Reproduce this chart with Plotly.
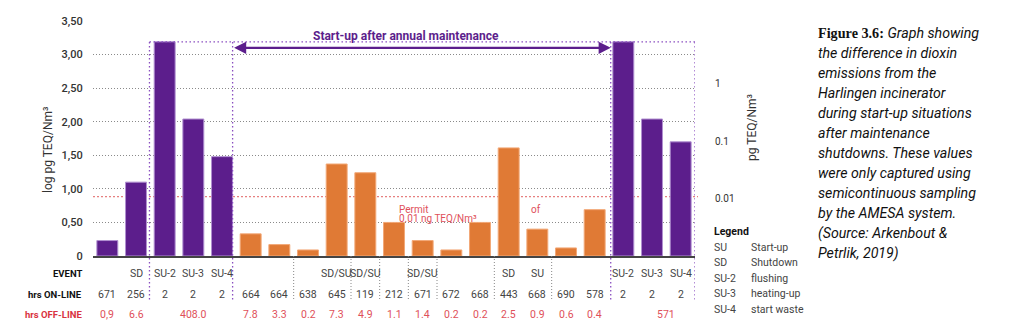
import plotly.graph_objects as go

# ---------------- data ----------------
values = [0.23, 1.10, 3.19, 2.04, 1.48,
          0.33, 0.17, 0.09, 1.37, 1.24, 0.50, 0.23, 0.09, 0.50, 1.61, 0.40, 0.12, 0.69,
          3.19, 2.04, 1.70]
bar_group = ["p", "p", "p", "p", "p",
             "o", "o", "o", "o", "o", "o", "o", "o", "o", "o", "o", "o", "o",
             "p", "p", "p"]
events = ["", "SD", "SU-2", "SU-3", "SU-4", "", "", "", "SD/SU", "SD/SU", "", "SD/SU",
          "", "", "SD", "SU", "", "", "SU-2", "SU-3", "SU-4"]
hrs_online = ["671", "256", "2", "2", "2", "664", "664", "638", "645", "119", "212", "671",
              "672", "668", "443", "668", "690", "578", "2", "2", "2"]
offline_pos = [0, 1, 3, 5, 6, 7, 8, 9, 10, 11, 12, 13, 14, 15, 16, 17, 19.5]
offline_txt = ["0,9", "6.6", "408.0", "7.8", "3.3", "0.2", "7.3", "4.9", "1.1", "1.4",
               "0.2", "0.2", "2.5", "0.9", "0.6", "0.4", "571"]
left_tickvals = [0, 0.5, 1.0, 1.5, 2.0, 2.5, 3.0, 3.5]
left_ticktext = ["0", "0,50", "1,00", "1,50", "2,00", "2,50", "3,00", "3,50"]
right_tickvals = [0.01, 0.1, 1]
right_ticktext = ["0.01", "0.1", "1"]
permit_level = 0.883
box_top = 3.19
separators = [6.5, 8.5, 9.5, 10.5, 11.5, 13.5, 15.5]
legend_codes = ["SU", "SD", "SU-2", "SU-3", "SU-4"]
legend_desc = ["Start-up", "Shutdown", "flushing", "heating-up", "start waste"]
caption_lines = [
    "<b><span style='font-family:\"Liberation Serif\";font-style:normal'>Figure 3.6:</span></b> Graph showing",
    "the difference in dioxin",
    "emissions from the",
    "Harlingen incinerator",
    "during start-up situations",
    "after maintenance",
    "shutdowns. These values",
    "were only captured using",
    "semicontinuous sampling",
    "by the AMESA system.",
    "(Source: Arkenbout &",
    "Petrlik, 2019)",
]

PURPLE = "#5c1e8c"
PURPLE_EDGE = "#b08fd0"
ORANGE = "#e07a35"
ORANGE_EDGE = "#f2a877"
RED = "#d9333f"
RED_LIGHT = "#e0505a"
FONT = "Roboto"

x = list(range(len(values)))
colors = [PURPLE if g == "p" else ORANGE for g in bar_group]
edges = [PURPLE_EDGE if g == "p" else ORANGE_EDGE for g in bar_group]

fig = go.Figure()
fig.add_trace(go.Bar(x=x, y=values, marker=dict(color=colors, line=dict(color=edges, width=1)),
                     width=0.73, hoverinfo="skip", showlegend=False))
fig.add_trace(go.Scatter(x=[0], y=[1], yaxis="y2", mode="markers",
                         marker=dict(opacity=0), hoverinfo="skip", showlegend=False))

W, H = 1024, 332
ML, MR, MT, MB = 93, 329, 21, 76
PW = W - ML - MR
PH = H - MT - MB


def px_x(px):
    return (px - ML) / PW


def px_y(py):
    return (H - MB - py) / PH


fig.update_layout(
    width=W, height=H,
    margin=dict(l=ML, r=MR, t=MT, b=MB, pad=0),
    paper_bgcolor="white", plot_bgcolor="white",
    font=dict(family=FONT, color="#333"),
    xaxis=dict(range=[-0.5, 20.5], showticklabels=False, showgrid=False, zeroline=False,
               showline=True, linecolor="#444", linewidth=2, ticks="", fixedrange=True),
    yaxis=dict(range=[0, 3.5], tickvals=left_tickvals, ticktext=left_ticktext,
               showgrid=True, gridcolor="#8a8a8a", griddash="1px,2px", gridwidth=1,
               zeroline=False, showline=False, ticks="outside", ticklen=7,
               tickcolor="rgba(0,0,0,0)",
               tickfont=dict(size=11, color="#333", family=FONT, weight=500)),
    yaxis2=dict(overlaying="y", side="right", type="log", range=[-2.988, 1.078],
                tickvals=right_tickvals, ticktext=right_ticktext, showgrid=False,
                zeroline=False, showline=False, ticks="outside", ticklen=17,
                tickcolor="rgba(0,0,0,0)",
                tickfont=dict(size=10, color="#333", family=FONT)),
)

BOT = px_y(300)
shapes = []
# permit line
shapes.append(dict(type="line", xref="paper", yref="y", x0=0, x1=1.005, y0=permit_level, y1=permit_level,
                   line=dict(color="#e06060", width=1, dash="2px,2px"), layer="below"))
# purple boxes
for xv in [1.47, 4.37, 17.56, 20.5]:
    shapes.append(dict(type="line", xref="x", yref="paper", x0=xv, x1=xv, y0=px_y(42), y1=BOT,
                       line=dict(color="#8a4fc0", width=1.3, dash="1.5px,2.5px"), layer="above"))
shapes.append(dict(type="line", xref="x", yref="y", x0=1.47, x1=20.5, y0=box_top, y1=box_top,
                   line=dict(color="#8a4fc0", width=1.3, dash="1.5px,2.5px"), layer="above"))
# table separators
for xv in separators:
    shapes.append(dict(type="line", xref="x", yref="paper", x0=xv, x1=xv, y0=0, y1=BOT,
                       line=dict(color="#888", width=1, dash="1px,2px"), layer="above"))
fig.update_layout(shapes=shapes)

ann = []
# arrow
ann.append(dict(xref="x", yref="y", axref="x", ayref="y", x=17.56, y=3.10, ax=4.37, ay=3.10,
                text="", showarrow=True, arrowhead=2, arrowside="end+start", arrowsize=1.1,
                arrowwidth=2.2, arrowcolor=PURPLE, standoff=0, startstandoff=0))
ann.append(dict(xref="x", yref="y", x=10.42, y=3.28, text="<b>Start-up after annual maintenance</b>",
                showarrow=False, xanchor="center", yanchor="middle",
                font=dict(size=12, color=PURPLE, family=FONT)))
# permit text
ann.append(dict(xref="x", yref="paper", x=10.1, y=px_y(209), xanchor="left", yanchor="middle",
                text="Permit", showarrow=False,
                font=dict(size=10, color=RED_LIGHT, family=FONT)))
ann.append(dict(xref="x", yref="paper", x=10.1, y=px_y(218.5), xanchor="left", yanchor="middle",
                text="0.01 ng TEQ/Nm³", showarrow=False,
                font=dict(size=10, color=RED_LIGHT, family=FONT)))
ann.append(dict(xref="x", yref="paper", x=14.7, y=px_y(209), xanchor="left", yanchor="middle",
                text="of", showarrow=False, font=dict(size=10, color=RED_LIGHT, family=FONT)))

# axis titles
ann.append(dict(xref="paper", yref="paper", x=px_x(48), y=px_y(150), xanchor="center", yanchor="middle",
                text="log pg TEQ/Nm³", textangle=-90, showarrow=False,
                font=dict(size=12, color="#333", family=FONT)))
ann.append(dict(xref="paper", yref="paper", x=px_x(752), y=px_y(128), xanchor="center", yanchor="middle",
                text="pg TEQ/Nm³", textangle=-90, showarrow=False,
                font=dict(size=12, color="#333", family=FONT)))

# table rows
row_y = {"event": px_y(273.3), "on": px_y(294.3), "off": px_y(314)}
lab_x = px_x(84)
for key, txt, col in [("event", "EVENT", "#111"), ("on", "hrs ON-LINE", "#111"), ("off", "hrs OFF-LINE", RED)]:
    ann.append(dict(xref="paper", yref="paper", x=lab_x, y=row_y[key], xanchor="right", yanchor="middle",
                    text="<b>" + txt + "</b>", showarrow=False,
                    font=dict(size=9.5, color=col, family=FONT)))
for i, t in enumerate(events):
    if t:
        ann.append(dict(xref="x", yref="paper", x=i, y=row_y["event"], text=t, showarrow=False,
                        xanchor="center", yanchor="middle",
                        font=dict(size=10.5, color="#444", family=FONT)))
for i, t in enumerate(hrs_online):
    ann.append(dict(xref="x", yref="paper", x=i, y=row_y["on"], text=t, showarrow=False,
                    xanchor="center", yanchor="middle",
                    font=dict(size=10.5, color="#444", family=FONT)))
for p, t in zip(offline_pos, offline_txt):
    ann.append(dict(xref="x", yref="paper", x=p, y=row_y["off"], text=t, showarrow=False,
                    xanchor="center", yanchor="middle",
                    font=dict(size=10.5, color=RED_LIGHT, family=FONT)))

# legend block
ann.append(dict(xref="paper", yref="paper", x=px_x(712), y=px_y(231.7), xanchor="left", yanchor="middle",
                text="<b>Legend</b>", showarrow=False, font=dict(size=10.5, color="#111", family=FONT)))
for k, (c, d) in enumerate(zip(legend_codes, legend_desc)):
    yy = px_y(247.3 + 15.5 * k)
    ann.append(dict(xref="paper", yref="paper", x=px_x(712), y=yy, xanchor="left", yanchor="middle", text=c,
                    showarrow=False, font=dict(size=10.5, color="#444", family=FONT)))
    ann.append(dict(xref="paper", yref="paper", x=px_x(749), y=yy, xanchor="left", yanchor="middle", text=d,
                    showarrow=False, font=dict(size=10.5, color="#444", family=FONT)))

# caption
for k, line in enumerate(caption_lines):
    ann.append(dict(xref="paper", yref="paper", x=px_x(816), y=px_y(33.3 + 20 * k), xanchor="left",
                    yanchor="middle", text=line, showarrow=False,
                    font=dict(size=14.2, color="#111", family=FONT, style="italic")))

fig.update_layout(annotations=ann)
fig.write_html("out.html")
